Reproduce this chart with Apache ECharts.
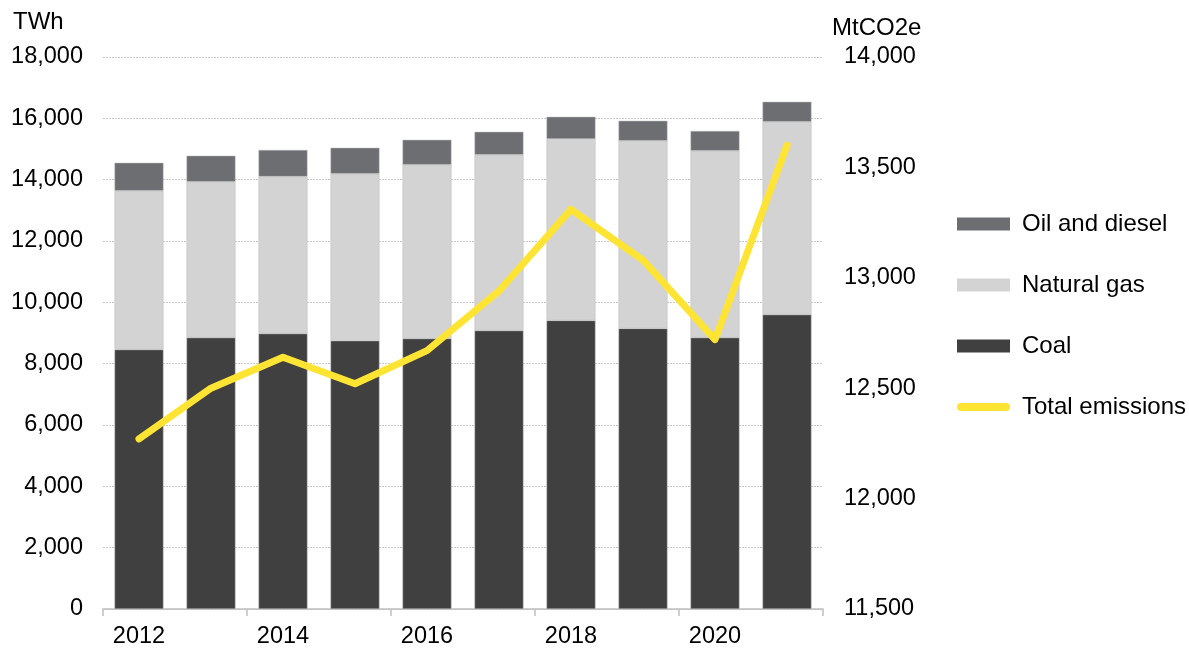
<!DOCTYPE html>
<html>
<head>
<meta charset="utf-8">
<script src="https://cdn.jsdelivr.net/npm/echarts@6/dist/echarts.min.js"></script>
<style>
  html, body { margin: 0; padding: 0; background: #fff; }
  #main { width: 1189px; height: 649px; }
</style>
</head>
<body>
<div id="main"></div>
<script>
const years = ['2012', '2013', '2014', '2015', '2016', '2017', '2018', '2019', '2020', '2021'];
const coal = [8460, 8850, 8980, 8750, 8820, 9080, 9410, 9150, 8850, 9600];
const gas = [5180, 5080, 5120, 5440, 5670, 5730, 5920, 6120, 6090, 6290];
const oil = [910, 850, 870, 850, 810, 750, 720, 650, 650, 650];
const emissions = [12270, 12500, 12640, 12520, 12670, 12940, 13310, 13080, 12720, 13600];

const font = 'Liberation Sans, Arial, sans-serif';
const chart = echarts.init(document.getElementById('main'));

const axisText = { color: '#000', fontSize: 23.5, fontFamily: font };
// thin rounded bar used as the legend mark of the line
const lineIcon = 'path://M4,0 H49 A4,4 0 0 1 49,8 H4 A4,4 0 0 1 4,0 Z';

const option = {
  animation: false,
  textStyle: { fontFamily: font },
  title: [
    { text: 'TWh', left: 8, top: 5, textStyle: { fontSize: 24, fontWeight: 'normal', color: '#000', fontFamily: font } },
    { text: 'MtCO2e', left: 827, top: 11, textStyle: { fontSize: 24, fontWeight: 'normal', color: '#000', fontFamily: font } }
  ],
  grid: { left: 103, right: 366, top: 57, bottom: 39 },
  legend: {
    orient: 'vertical',
    left: 957,
    top: 212,
    padding: 0,
    itemWidth: 53,
    itemHeight: 13,
    itemGap: 37,
    itemStyle: { borderWidth: 0 },
    textStyle: { color: '#000', fontSize: 24, fontFamily: font, padding: [0, 0, 0, 7] },
    data: [
      { name: 'Oil and diesel', icon: 'rect' },
      { name: 'Natural gas', icon: 'rect' },
      { name: 'Coal', icon: 'rect' },
      { name: 'Total emissions', icon: lineIcon }
    ]
  },
  xAxis: {
    type: 'category',
    data: years,
    axisLine: { lineStyle: { color: '#bfbfbf', width: 1.5 } },
    axisTick: { show: true, length: 7, lineStyle: { color: '#bfbfbf', width: 1.5 } },
    axisLabel: { interval: 1, margin: 16, ...axisText }
  },
  yAxis: [
    {
      type: 'value',
      min: 0,
      max: 18000,
      interval: 2000,
      axisLine: { show: false },
      axisTick: { show: false },
      splitLine: { lineStyle: { color: '#c8c8c8', type: [2, 1], width: 1 } },
      axisLabel: { margin: 20, formatter: v => v.toLocaleString('en-US'), ...axisText }
    },
    {
      type: 'value',
      min: 11500,
      max: 14000,
      interval: 500,
      axisLine: { show: false },
      axisTick: { show: false },
      splitLine: { show: false },
      axisLabel: { margin: 21, formatter: v => v.toLocaleString('en-US'), ...axisText }
    }
  ],
  series: [
    {
      name: 'Coal', type: 'bar', stack: 'fuel', data: coal, barCategoryGap: '32%',
      itemStyle: { color: '#404040', borderColor: '#bdbdbd', borderWidth: 0.5 }
    },
    {
      name: 'Natural gas', type: 'bar', stack: 'fuel', data: gas,
      itemStyle: { color: '#d3d3d3', borderColor: '#bdbdbd', borderWidth: 0.5 }
    },
    {
      name: 'Oil and diesel', type: 'bar', stack: 'fuel', data: oil,
      itemStyle: { color: '#6d6e71', borderColor: '#bdbdbd', borderWidth: 0.5 }
    },
    {
      name: 'Total emissions', type: 'line', yAxisIndex: 1, data: emissions,
      symbol: 'none', z: 5,
      itemStyle: { color: '#ffe433' },
      lineStyle: { color: '#ffe433', width: 7, cap: 'round', join: 'round' }
    }
  ]
};

chart.setOption(option);
</script>
</body>
</html>
